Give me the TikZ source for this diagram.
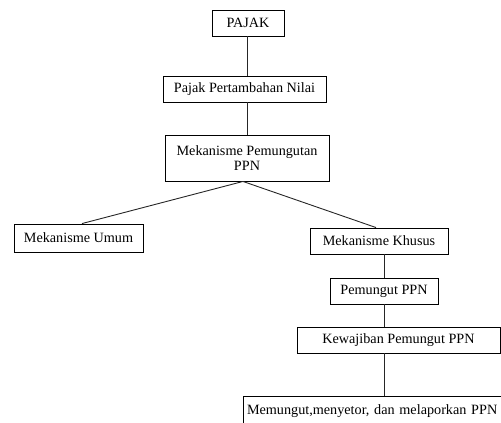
\documentclass[tikz,border=0pt]{standalone}
\usepackage{fontspec}
\setmainfont{Liberation Serif}
\begin{document}
\frenchspacing
\begin{tikzpicture}[x=1pt,y=-1pt,
  box/.style={draw=black, line width=0.9pt, rectangle, inner sep=0pt, font=\fontsize{14.2}{15.5}\selectfont, align=center},
  link/.style={draw=black!85, line width=0.9pt}]
\useasboundingbox (0,0) rectangle (501,423);
\node[box, minimum width=72pt, minimum height=26pt] (pajak) at (248,23) {PAJAK};
\node[box, minimum width=163pt, minimum height=26pt] (ppn) at (244.5,89) {Pajak Pertambahan Nilai};
\node[box, minimum width=164pt, minimum height=46pt] (mek) at (247,158) {Mekanisme Pemungutan\\PPN};
\node[box, minimum width=129pt, minimum height=28pt] (umum) at (78.5,238) {Mekanisme Umum};
\node[box, minimum width=138pt, minimum height=26pt] (khusus) at (379,241) {Mekanisme Khusus};
\node[box, minimum width=108pt, minimum height=26pt] (pemungut) at (384,291) {Pemungut PPN};
\node[box, minimum width=203pt, minimum height=26pt] (kewajiban) at (398.5,340) {Kewajiban Pemungut PPN};
\node[box, minimum width=270pt, minimum height=30pt, text width=262pt, align=left] (lapor) at (378,411) {Memungut,menyetor, dan melaporkan PPN};
\draw[link] (pajak.south -| 247,0) -- (247,0 |- ppn.north);
\draw[link] (ppn.south -| 247,0) -- (247,0 |- mek.north);
\draw[link] (mek.south -| 243,0) -- (umum.north -| 82,0);
\draw[link] (mek.south -| 243,0) -- (khusus.north -| 376,0);
\draw[link] (pemungut.north |- khusus.south) -- (pemungut.north);
\draw[link] (pemungut.south) -- (pemungut.south |- kewajiban.north);
\draw[link] (pemungut.south |- kewajiban.south) -- (pemungut.south |- lapor.north);
\end{tikzpicture}
\end{document}
